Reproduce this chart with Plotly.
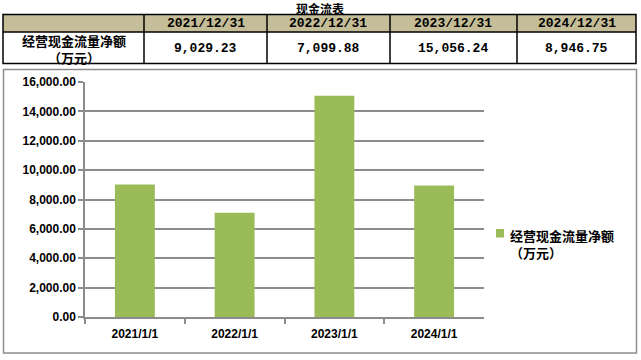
import plotly.graph_objects as go

# ---- data ----
table_title = "现金流表"
row_label = "经营现金流量净额<br>（万元）"
header_dates = ["2021/12/31", "2022/12/31", "2023/12/31", "2024/12/31"]
categories = ["2021/1/1", "2022/1/1", "2023/1/1", "2024/1/1"]
values = [9029.23, 7099.88, 15056.24, 8946.75]
series_name = "经营现金流量净额<br>（万元）"

W, H = 641, 360
GREEN = "#9bbb59"
TAN = "#c4bd97"
GRID = "#8c8c8c"

def px(x):
    return x / W

def py(y):
    return 1 - y / H

# table layout (pixels)
col_edges = [3, 144, 267, 390, 517, 636]
row_edges = [14.5, 32, 63.5]

mono = "Liberation Mono, Noto Sans CJK SC, monospace"
cjk = "Noto Sans CJK SC, sans-serif"

shapes = []
annotations = []

# header fill
shapes.append(dict(type="rect", xref="paper", yref="paper",
                   x0=px(col_edges[0]), x1=px(col_edges[-1]),
                   y0=py(row_edges[1]), y1=py(row_edges[0]),
                   fillcolor=TAN, line=dict(width=0), layer="below"))
# outer border
shapes.append(dict(type="rect", xref="paper", yref="paper",
                   x0=px(col_edges[0]), x1=px(col_edges[-1]),
                   y0=py(row_edges[-1]), y1=py(row_edges[0]),
                   fillcolor="rgba(0,0,0,0)", line=dict(color="black", width=1.5)))
# horizontal inner line
shapes.append(dict(type="line", xref="paper", yref="paper",
                   x0=px(col_edges[0]), x1=px(col_edges[-1]),
                   y0=py(row_edges[1]), y1=py(row_edges[1]),
                   line=dict(color="black", width=1.5)))
# vertical inner lines
for xe in col_edges[1:-1]:
    shapes.append(dict(type="line", xref="paper", yref="paper",
                       x0=px(xe), x1=px(xe),
                       y0=py(row_edges[-1]), y1=py(row_edges[0]),
                       line=dict(color="black", width=1.5)))

# header texts
for i, d in enumerate(header_dates):
    cx = (col_edges[i + 1] + col_edges[i + 2]) / 2
    annotations.append(dict(text=f"<b>{d}</b>", xref="paper", yref="paper",
                            x=px(cx), y=py((row_edges[0] + row_edges[1]) / 2 + 0.5),
                            xanchor="center", yanchor="middle", showarrow=False,
                            font=dict(family=mono, size=13, color="black")))
# value texts
for i, v in enumerate(values):
    cx = (col_edges[i + 1] + col_edges[i + 2]) / 2
    annotations.append(dict(text=f"<b>{v:,.2f}</b>", xref="paper", yref="paper",
                            x=px(cx), y=py((row_edges[1] + row_edges[2]) / 2 + 0.5),
                            xanchor="center", yanchor="middle", showarrow=False,
                            font=dict(family=mono, size=13, color="black")))
# row label
annotations.append(dict(text=f"<b>{row_label}</b>", xref="paper", yref="paper",
                        x=px((col_edges[0] + col_edges[1]) / 2), y=py(49.5),
                        xanchor="center", yanchor="middle", showarrow=False,
                        font=dict(family=cjk, size=13, color="black")))
# title
annotations.append(dict(text=f"<b>{table_title}</b>", xref="paper", yref="paper",
                        x=px(320), y=py(8.5), xanchor="center", yanchor="middle",
                        showarrow=False, font=dict(family=cjk, size=12, color="black")))

# chart frame
shapes.append(dict(type="rect", xref="paper", yref="paper",
                   x0=px(3.5), x1=px(636.5), y0=py(353), y1=py(69.5),
                   line=dict(color=GRID, width=1.5), fillcolor="rgba(0,0,0,0)", layer="below"))

# custom legend (small square marker + two-line label)
shapes.append(dict(type="rect", xref="paper", yref="paper",
                   x0=px(496), x1=px(504), y0=py(237.5), y1=py(229),
                   fillcolor=GREEN, line=dict(width=0)))
annotations.append(dict(text=f"<b>{series_name}</b>", xref="paper", yref="paper",
                        x=px(508), y=py(224), xanchor="left", yanchor="top",
                        align="left", showarrow=False,
                        font=dict(family=cjk, size=13, color="black")))

fig = go.Figure()
fig.add_trace(go.Bar(
    x=categories,
    y=values,
    name=series_name,
    marker=dict(color=GREEN, line=dict(width=0)),
    showlegend=False,
))

tickfont = dict(family="Liberation Sans, sans-serif", size=12, color="black", weight="bold")
fig.update_layout(
    width=W, height=H,
    margin=dict(l=0, r=0, t=0, b=0, autoexpand=False),
    paper_bgcolor="white",
    plot_bgcolor="white",
    bargap=0.6,
    font=dict(family="Liberation Sans, Noto Sans CJK SC, sans-serif", color="black"),
    xaxis=dict(
        domain=[px(85), px(484)],
        type="category",
        automargin=False,
        showline=True, linecolor=GRID, linewidth=1.5,
        ticks="outside", ticklen=5, tickcolor=GRID, tickwidth=1.5,
        tickson="boundaries",
        ticklabelstandoff=5,
        showgrid=False,
        tickfont=tickfont,
    ),
    yaxis=dict(
        domain=[py(317), py(82)],
        range=[0, 16000],
        dtick=2000,
        tickformat=",.2f",
        automargin=False,
        showline=True, linecolor=GRID, linewidth=1.5,
        ticks="outside", ticklen=5, tickcolor=GRID, tickwidth=1.5,
        showgrid=True, gridcolor=GRID, gridwidth=1.5,
        zeroline=False,
        tickfont=tickfont,
    ),
    showlegend=False,
    shapes=shapes,
    annotations=annotations,
)

fig.write_html(
    "out.html",
    config={"responsive": False, "displayModeBar": False},
    post_script="document.body.style.margin='0';document.body.style.overflow='hidden';",
)
